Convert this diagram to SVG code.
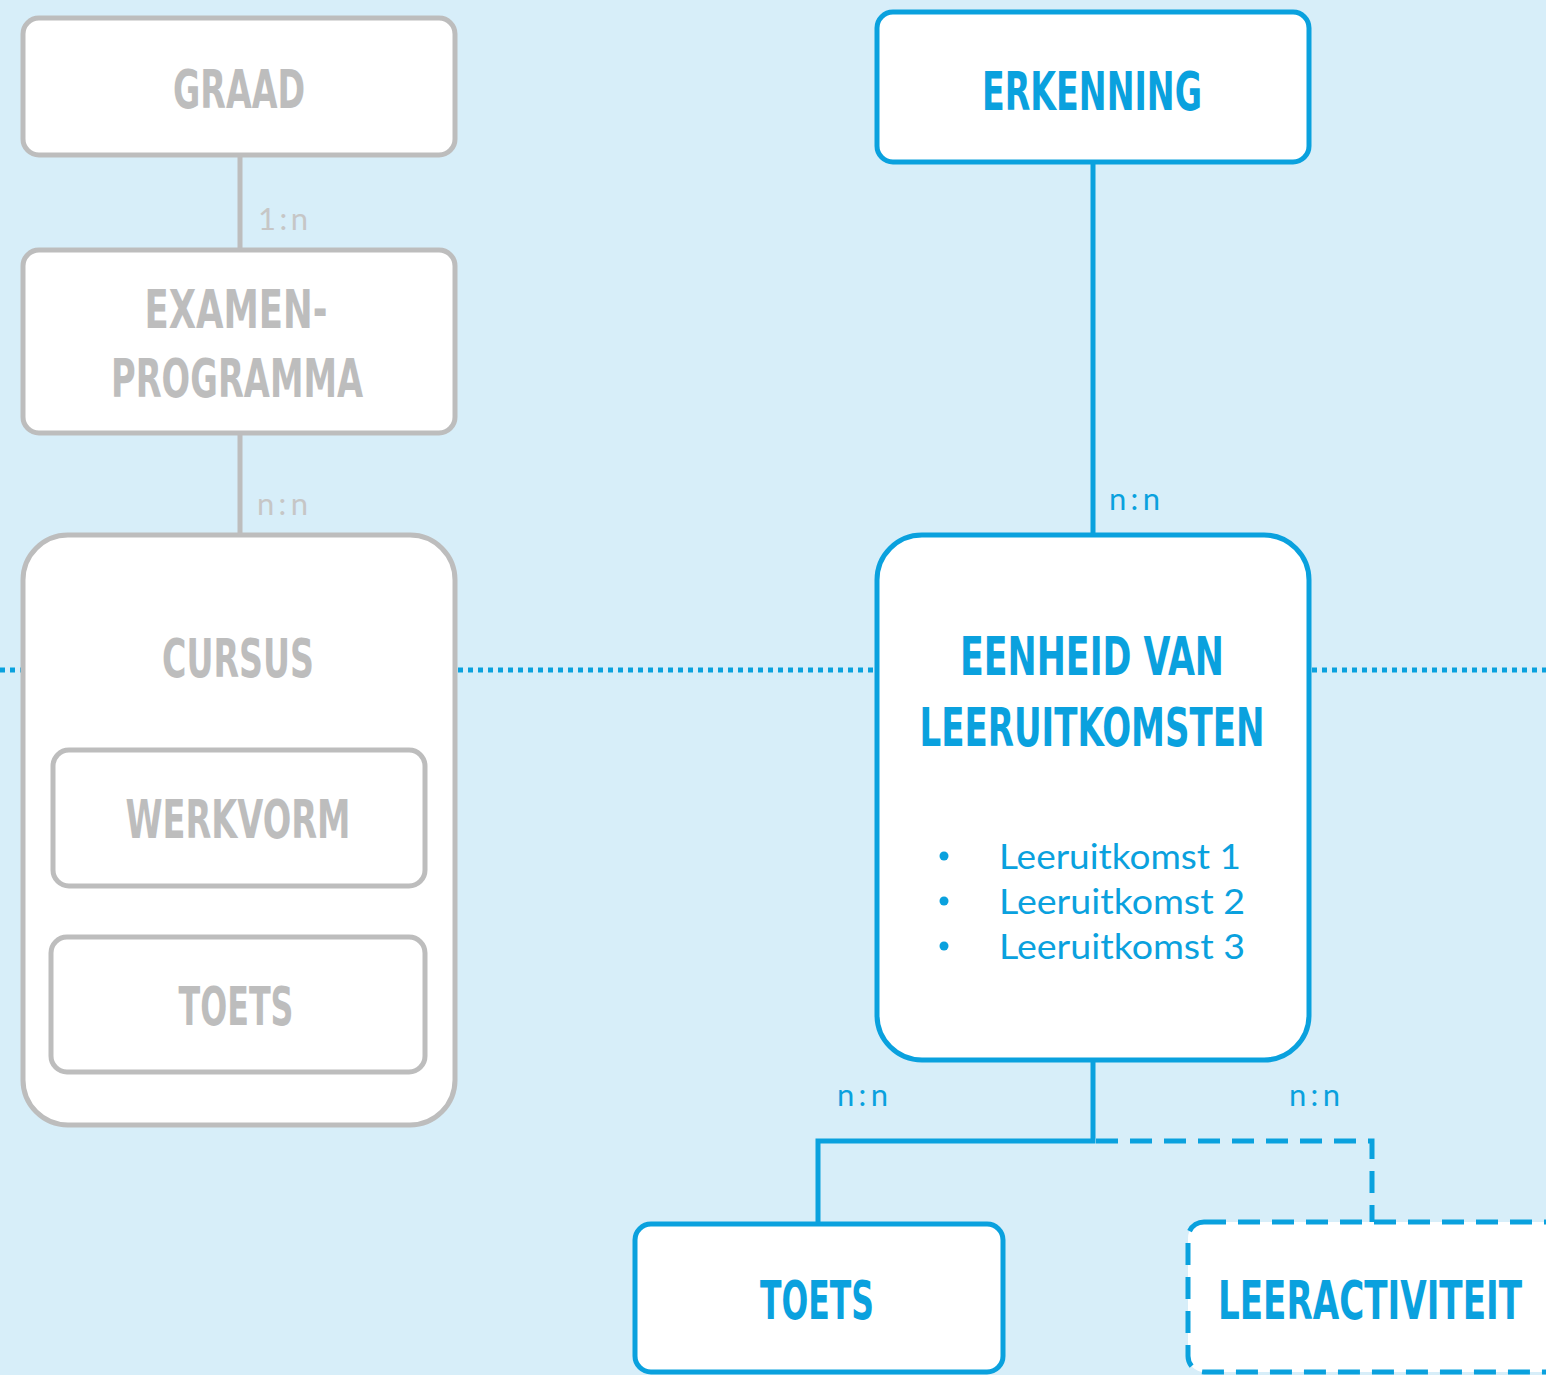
<svg xmlns="http://www.w3.org/2000/svg" width="1546" height="1375" viewBox="0 0 1546 1375">
<style>
.bg{fill:#d7eef9}
.gbox{fill:#ffffff;stroke:#bdbdbd;stroke-width:5}
.bbox{fill:#ffffff;stroke:#0aa1de;stroke-width:5}
.dbox{fill:#ffffff;stroke:#0aa1de;stroke-width:5;stroke-dasharray:22 12}
.gline{stroke:#bdbdbd;stroke-width:5;fill:none}
.bline{stroke:#0aa1de;stroke-width:5;fill:none}
.dline{stroke:#0aa1de;stroke-width:5;fill:none;stroke-dasharray:22 12}
.dot{stroke:#0aa1de;stroke-width:5;fill:none;stroke-dasharray:5 5}
.title{font-family:"DejaVu Sans Condensed","DejaVu Sans","Liberation Sans Narrow",sans-serif;font-weight:bold;font-size:54px}
.gt{fill:#bdbdbd}
.bt{fill:#0aa1de}
.lbl{font-family:"Lato","Noto Sans",sans-serif;font-size:31px}
.gl{fill:#c6c6c6}
.bl{fill:#0aa1de}
.item{font-family:"Lato","Noto Sans",sans-serif;font-size:35px;fill:#0aa1de}
</style>
<rect class="bg" x="0" y="0" width="1546" height="1375"/>

<g id="connectors">
<line class="gline" x1="240" y1="155" x2="240" y2="250"/>
<line class="gline" x1="240" y1="433" x2="240" y2="535"/>
<line class="bline" x1="1093" y1="162" x2="1093" y2="535"/>
<polyline class="bline" points="1093,1060 1093,1141 818,1141 818,1224"/>
<polyline class="dline" points="1096,1141 1372,1141 1372,1222"/>
<line class="dot" x1="0" y1="670" x2="22" y2="670"/>
<line class="dot" x1="458" y1="670" x2="874" y2="670"/>
<line class="dot" x1="1312" y1="670" x2="1546" y2="670"/>
<text class="lbl gl" x="258" y="230" textLength="50" lengthAdjust="spacing">1:n</text>
<text class="lbl gl" x="257" y="515" textLength="51" lengthAdjust="spacing">n:n</text>
<text class="lbl bl" x="1109" y="510" textLength="51" lengthAdjust="spacing">n:n</text>
<text class="lbl bl" x="837" y="1106" textLength="51" lengthAdjust="spacing">n:n</text>
<text class="lbl bl" x="1289" y="1106" textLength="51" lengthAdjust="spacing">n:n</text>
</g>

<g id="graad">
<rect class="gbox" x="23" y="18" width="432" height="137" rx="16"/>
<text class="title gt" x="239" y="108" text-anchor="middle" textLength="132" lengthAdjust="spacingAndGlyphs">GRAAD</text>
</g>

<g id="examenprogramma">
<rect class="gbox" x="23" y="250" width="432" height="183" rx="16"/>
<text class="title gt" x="236" y="328" text-anchor="middle" textLength="183" lengthAdjust="spacingAndGlyphs">EXAMEN-</text>
<text class="title gt" x="237" y="397" text-anchor="middle" textLength="252" lengthAdjust="spacingAndGlyphs">PROGRAMMA</text>
</g>

<g id="cursus">
<rect class="gbox" x="23" y="535" width="432" height="590" rx="45"/>
<text class="title gt" x="238" y="677" text-anchor="middle" textLength="152" lengthAdjust="spacingAndGlyphs">CURSUS</text>
</g>

<g id="werkvorm">
<rect class="gbox" x="53" y="750" width="372" height="136" rx="16"/>
<text class="title gt" x="238" y="838" text-anchor="middle" textLength="225" lengthAdjust="spacingAndGlyphs">WERKVORM</text>
</g>

<g id="toets-cursus">
<rect class="gbox" x="51" y="937" width="374" height="135" rx="16"/>
<text class="title gt" x="236" y="1025" text-anchor="middle" textLength="115" lengthAdjust="spacingAndGlyphs">TOETS</text>
</g>

<g id="erkenning">
<rect class="bbox" x="877" y="12" width="432" height="150" rx="16"/>
<text class="title bt" x="1092" y="110" text-anchor="middle" textLength="220" lengthAdjust="spacingAndGlyphs">ERKENNING</text>
</g>

<g id="eenheid">
<rect class="bbox" x="877" y="535" width="432" height="525" rx="45"/>
<text class="title bt" x="1092" y="675" text-anchor="middle" textLength="264" lengthAdjust="spacingAndGlyphs">EENHEID VAN</text>
<text class="title bt" x="1092" y="746" text-anchor="middle" textLength="345" lengthAdjust="spacingAndGlyphs">LEERUITKOMSTEN</text>
<circle cx="944" cy="856" r="4.5" fill="#0aa1de"/>
<circle cx="944" cy="901" r="4.5" fill="#0aa1de"/>
<circle cx="944" cy="946" r="4.5" fill="#0aa1de"/>
<text class="item" x="999" y="869" textLength="242" lengthAdjust="spacingAndGlyphs">Leeruitkomst 1</text>
<text class="item" x="999" y="914" textLength="246" lengthAdjust="spacingAndGlyphs">Leeruitkomst 2</text>
<text class="item" x="999" y="959" textLength="246" lengthAdjust="spacingAndGlyphs">Leeruitkomst 3</text>
</g>

<g id="toets">
<rect class="bbox" x="635" y="1224" width="368" height="148" rx="16"/>
<text class="title bt" x="817" y="1319" text-anchor="middle" textLength="114" lengthAdjust="spacingAndGlyphs">TOETS</text>
</g>

<g id="leeractiviteit">
<rect class="dbox" x="1188" y="1222" width="400" height="150" rx="16"/>
<text class="title bt" x="1218" y="1319" textLength="304" lengthAdjust="spacingAndGlyphs">LEERACTIVITEIT</text>
</g>
</svg>
